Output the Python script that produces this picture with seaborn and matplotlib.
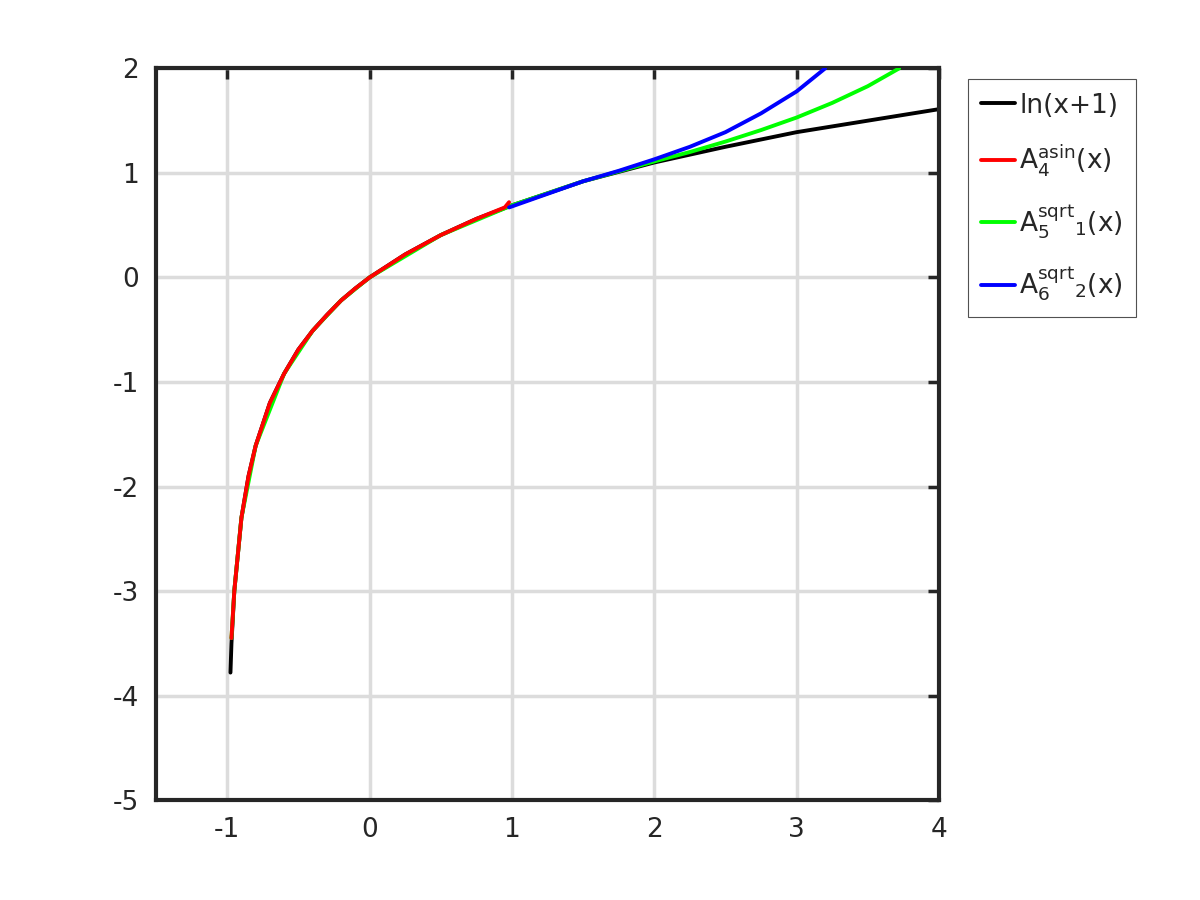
import matplotlib
matplotlib.use("Agg")
import matplotlib.pyplot as plt
import seaborn as sns
import pandas as pd

# values
ln_x = [-0.977, -0.97, -0.95, -0.9, -0.85, -0.8, -0.7, -0.6, -0.5, -0.4, -0.3, -0.2, -0.1,
        0, 0.25, 0.5, 0.75, 1, 1.5, 2, 2.5, 3, 3.5, 4]
ln_y = [-3.78, -3.5, -3.0, -2.3, -1.90, -1.61, -1.2, -0.92, -0.69, -0.51, -0.36, -0.22, -0.105,
        0, 0.22, 0.405, 0.56, 0.69, 0.92, 1.10, 1.25, 1.39, 1.50, 1.61]

asin_x = [-0.97, -0.95, -0.9, -0.85, -0.8, -0.7, -0.6, -0.5, -0.4, -0.3, -0.2, -0.1,
          0, 0.25, 0.5, 0.75, 0.95, 0.98]
asin_y = [-3.45, -3.0, -2.3, -1.90, -1.61, -1.2, -0.92, -0.69, -0.51, -0.36, -0.22, -0.105,
          0, 0.22, 0.405, 0.56, 0.67, 0.72]

sq1_x = [-0.97, -0.95, -0.9, -0.8, -0.6, -0.4, -0.2, 0, 0.5, 1, 1.5, 2, 2.25, 2.5, 2.75,
         3, 3.25, 3.5, 3.72]
sq1_y = [-3.45, -3.0, -2.3, -1.61, -0.92, -0.51, -0.22, 0, 0.405, 0.69, 0.92, 1.11, 1.20,
         1.30, 1.41, 1.53, 1.67, 1.83, 2.0]

sq2_x = [0.98, 1.25, 1.5, 1.75, 2, 2.25, 2.5, 2.75, 3, 3.2]
sq2_y = [0.67, 0.80, 0.92, 1.02, 1.13, 1.25, 1.39, 1.57, 1.78, 2.0]

labels = ['ln(x+1)', r'$\mathrm{A_4^{asin}(x)}$',
          r'$\mathrm{A_5^{sqrt}{}_1(x)}$', r'$\mathrm{A_6^{sqrt}{}_2(x)}$']
colors = ['black', 'red', '#00ff00', 'blue']
zorders = [2, 4, 3, 5]

sns.set_style("white")
plt.rcParams['font.family'] = ['DejaVu Sans']
plt.rcParams['mathtext.fontset'] = 'dejavusans'
plt.rcParams['axes.unicode_minus'] = False

fig = plt.figure(figsize=(12, 9), dpi=100)
ax = fig.add_axes([0.13, 0.111, 0.6525, 0.813])

series = [(ln_x, ln_y), (asin_x, asin_y), (sq1_x, sq1_y), (sq2_x, sq2_y)]
for (xs, ys), lab, col, z in zip(series, labels, colors, zorders):
    df = pd.DataFrame({'x': xs, 'y': ys})
    sns.lineplot(data=df, x='x', y='y', ax=ax, color=col, linewidth=2.8,
                 label=lab, sort=False, zorder=z)

ax.set_xlim(-1.5, 4)
ax.set_ylim(-5, 2)
ax.set_xticks(range(-1, 5))
ax.set_yticks(range(-5, 3))
ax.set_xlabel('')
ax.set_ylabel('')
ax.grid(True, color='#dcdcdc', linewidth=2.5)
for s in ax.spines.values():
    s.set_visible(True)
    s.set_color('#262626')
    s.set_linewidth(3)
ax.tick_params(direction='in', length=8, width=2.5, labelsize=19, colors='#262626',
               top=True, right=True, pad=12)

leg = ax.legend(loc='upper left', bbox_to_anchor=(1.02, 1.003), fontsize=19,
                frameon=True, fancybox=False, edgecolor='#262626',
                handlelength=1.3, handletextpad=0.15, labelspacing=0.9,
                borderpad=0.5)
leg.get_frame().set_linewidth(0.8)

fig.savefig('out.png', dpi=100)
